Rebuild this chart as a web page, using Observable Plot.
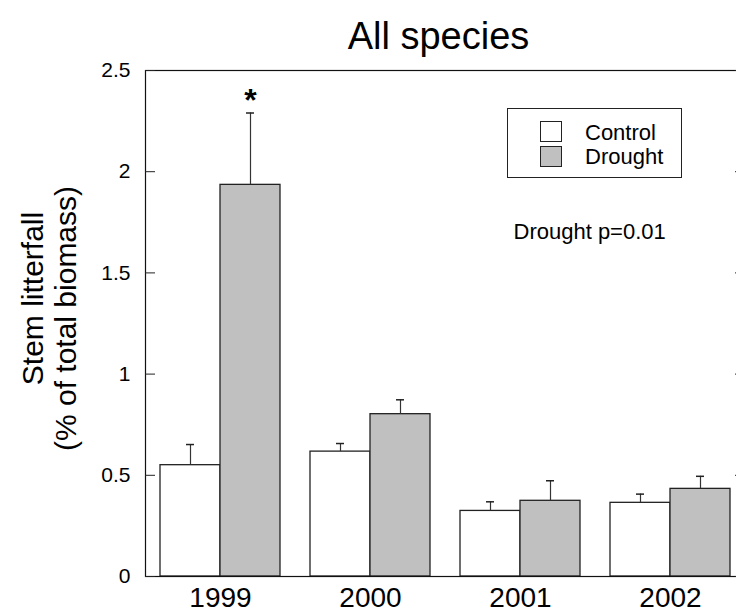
<!DOCTYPE html>
<html>
<head>
<meta charset="utf-8">
<script src="https://cdn.jsdelivr.net/npm/d3@7"></script>
<script src="https://cdn.jsdelivr.net/npm/@observablehq/plot@0.6"></script>
<style>
  html, body { margin: 0; padding: 0; background: white; overflow: hidden; }
  #wrap { position: relative; width: 736px; height: 613px; overflow: hidden; font-family: "Liberation Sans", Arial, Helvetica, sans-serif; }
  #wrap svg { max-width: none !important; width: 750px; height: 613px; display: block; }
  #legend { position: absolute; left: 507px; top: 108px; width: 175px; height: 70px; border: 1px solid #222; box-sizing: border-box; }
  .sw { position: absolute; left: 540px; width: 22px; height: 21px; border: 1px solid #222; box-sizing: border-box; }
  .lt { position: absolute; left: 585px; font-size: 22px; line-height: 22px; color: #000; white-space: nowrap; }
</style>
</head>
<body>
<div id="wrap"></div>
<script>
// ---- data ----
const title = "All species";
const yLabelLines = ["Stem litterfall", "(% of total biomass)"];
const years = ["1999", "2000", "2001", "2002"];
const controlMean = [0.55, 0.617, 0.324, 0.364];
const controlSE   = [0.102, 0.040, 0.045, 0.043];
const droughtMean = [1.935, 0.802, 0.374, 0.433];
const droughtSE   = [0.355, 0.071, 0.099, 0.062];
const yTicks = [0, 0.5, 1, 1.5, 2, 2.5];
const seriesNames = ["Control", "Drought"];
const seriesColors = ["#ffffff", "#c0c0c0"];
const annotation = "Drought p=0.01";
const significant = ["1999"];

const FONT = '"Liberation Sans", Arial, Helvetica, sans-serif';
const rows = years.map((y, i) => ({
  year: y,
  control: controlMean[i], controlTop: controlMean[i] + controlSE[i],
  drought: droughtMean[i], droughtTop: droughtMean[i] + droughtSE[i]
}));
const sigRows = rows.filter(r => significant.includes(r.year));

const chart = Plot.plot({
  width: 750, height: 613,
  marginLeft: 145, marginRight: 5, marginTop: 70, marginBottom: 37,
  style: {fontFamily: FONT, background: "white", overflow: "visible", color: "#000", maxWidth: "none"},
  x: {domain: years, padding: 0, axis: null},
  y: {domain: [0, 2.5], axis: null},
  marks: [
    Plot.barY(rows, {x: "year", y: "control", fill: seriesColors[0], stroke: "#222", strokeWidth: 1.3, insetLeft: 15, insetRight: 75}),
    Plot.barY(rows, {x: "year", y: "drought", fill: seriesColors[1], stroke: "#222", strokeWidth: 1.3, insetLeft: 75, insetRight: 15}),
    Plot.ruleX(rows, {x: "year", y1: "control", y2: "controlTop", dx: -30, stroke: "#333", strokeWidth: 1.2}),
    Plot.ruleX(rows, {x: "year", y1: "drought", y2: "droughtTop", dx: 30, stroke: "#333", strokeWidth: 1.2}),
    Plot.tickY(rows, {x: "year", y: "controlTop", insetLeft: 41, insetRight: 101, stroke: "#222", strokeWidth: 1.5}),
    Plot.tickY(rows, {x: "year", y: "droughtTop", insetLeft: 101, insetRight: 41, stroke: "#222", strokeWidth: 1.5}),
    Plot.frame({stroke: "#111", strokeWidth: 1.2}),
    // inward ticks, left and right
    Plot.tickY(yTicks, {y: d => d, insetRight: 590, stroke: "#222"}),
    Plot.tickY(yTicks, {y: d => d, insetLeft: 590, stroke: "#222"}),
    Plot.axisY(yTicks, {tickSize: 0, tickPadding: 15, fontSize: 21, tickFormat: d => String(d), label: null}),
    Plot.axisX({tickSize: 0, tickPadding: 11, fontSize: 28, label: null}),
    // significance asterisk
    Plot.text(sigRows, {x: "year", y: "droughtTop", text: () => "*", dx: 30, dy: -12, fontSize: 32, fontWeight: "bold"}),
    // title
    Plot.text([title], {frameAnchor: "top", dx: -7, dy: -48.5, fontSize: 38}),
    // y label
    Plot.text([yLabelLines[0]], {frameAnchor: "left", textAnchor: "middle", rotate: -90, dx: -112, dy: -25, fontSize: 30}),
    Plot.text([yLabelLines[1]], {frameAnchor: "left", textAnchor: "middle", rotate: -90, dx: -79, dy: -5, fontSize: 30}),
    // annotation
    Plot.text([annotation], {frameAnchor: "top-left", textAnchor: "start", dx: 368, dy: 152.7, fontSize: 22})
  ]
});

const wrap = document.getElementById("wrap");
wrap.appendChild(chart);

// legend
const lg = document.createElement("div");
lg.id = "legend";
wrap.appendChild(lg);
seriesNames.forEach((name, i) => {
  const sw = document.createElement("div");
  sw.className = "sw";
  sw.style.top = (121 + i * 24.5) + "px";
  sw.style.background = seriesColors[i];
  wrap.appendChild(sw);
  const t = document.createElement("div");
  t.className = "lt";
  t.style.top = (121.5 + i * 24) + "px";
  t.textContent = name;
  wrap.appendChild(t);
});
</script>
</body>
</html>
